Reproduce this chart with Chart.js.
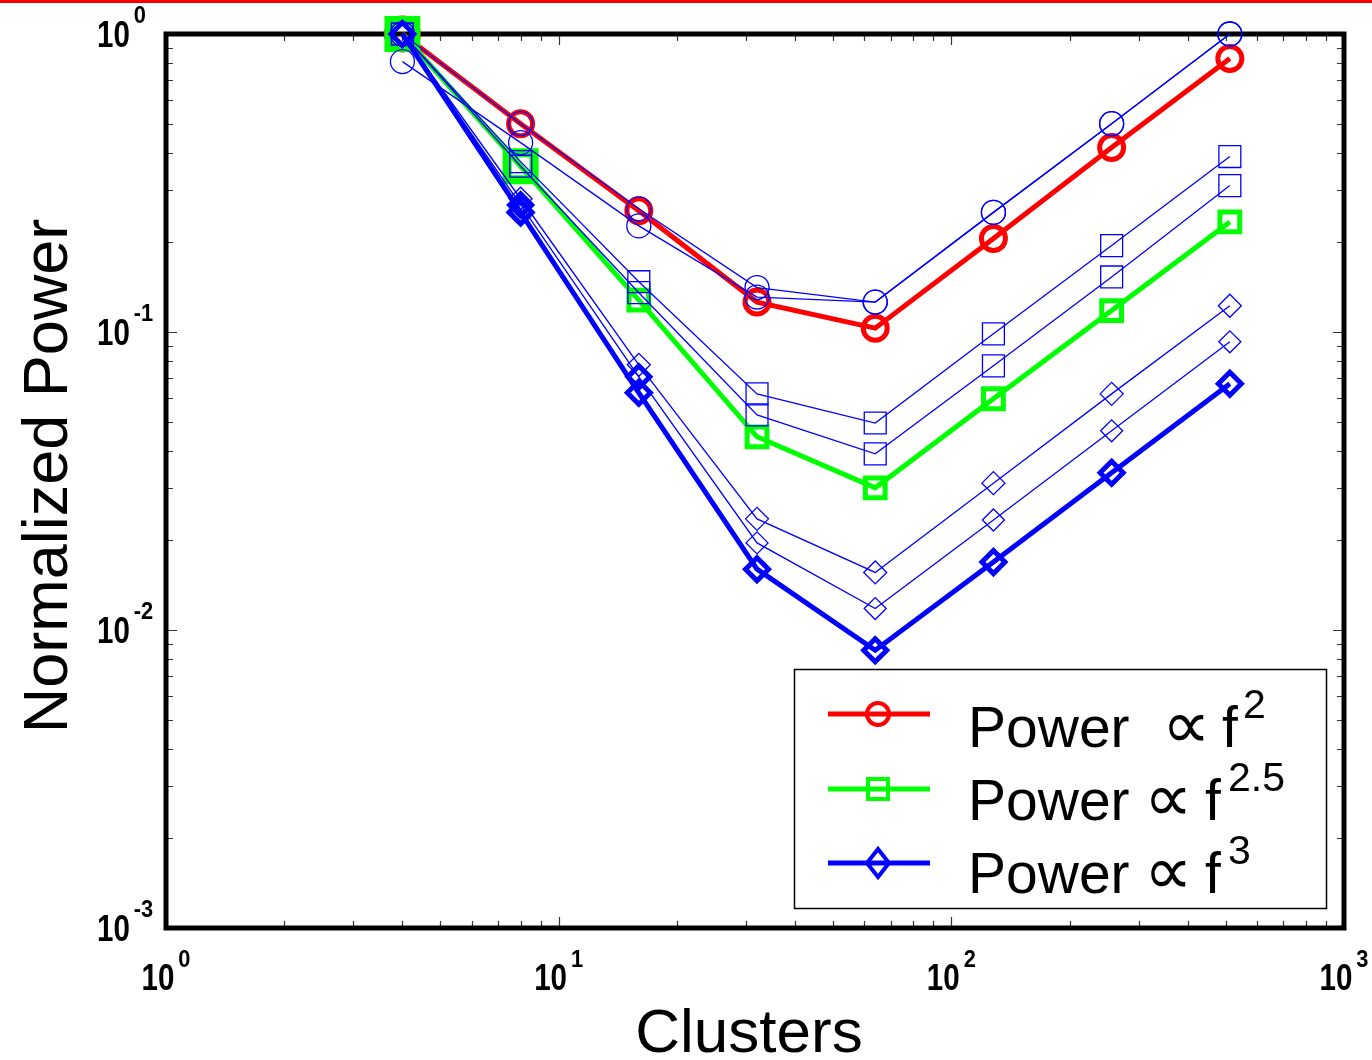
<!DOCTYPE html>
<html>
<head>
<meta charset="utf-8">
<script src="https://cdn.jsdelivr.net/npm/chart.js@4.4.1/dist/chart.umd.min.js"></script>
<style>
html,body{margin:0;padding:0;background:#fff;overflow:hidden}
#wrap{position:relative;width:1372px;height:1060px}
</style>
</head>
<body>
<div id="wrap"><canvas id="c" width="1372" height="1060"></canvas></div>
<script>
// ---- data ----
const clusters = [4, 8, 16, 32, 64, 128, 256, 512];

const powerF2   = [1.0, 0.50, 0.255, 0.126, 0.103, 0.206, 0.416, 0.828];
const powerF25  = [1.0, 0.36, 0.128, 0.0445, 0.030, 0.0597, 0.118, 0.234];
const powerF3   = [1.0, 0.252, 0.0625, 0.016, 0.00855, 0.0169, 0.0337, 0.067];

const circA = [1.0, 0.50, 0.259, 0.141, 0.126, 0.252, 0.50, 1.0];
const circB = [0.808, 0.432, 0.227, 0.131, 0.126, 0.252, 0.50, 1.0];
const sqA   = [1.0, 0.373, 0.1475, 0.062, 0.0495, 0.0986, 0.195, 0.388];
const sqB   = [1.0, 0.36, 0.1355, 0.0527, 0.039, 0.077, 0.153, 0.310];
const diaA  = [1.0, 0.28, 0.0776, 0.0236, 0.0156, 0.0311, 0.062, 0.1225];
const diaB  = [1.0, 0.267, 0.0707, 0.0196, 0.0118, 0.0234, 0.0466, 0.0927];

const xTickExps = [0, 1, 2, 3];
const yTickExps = [0, -1, -2, -3];
const xTitle = 'Clusters';
const yTitle = 'Normalized Power';
const legendBase = ['Power', 'Power', 'Power'];
const legendExps = ['2', '2.5', '3'];

// ---- helpers ----
const pts = vals => clusters.map((c, i) => ({x: c, y: vals[i]}));
const NONE = 'rgba(0,0,0,0)';
const BLUE = '#0000ff', RED = '#ff0000', GREEN = '#00ff00';
const thin = (vals, style, radius) => ({
  data: pts(vals), borderColor: BLUE, borderWidth: 1.3,
  pointStyle: style, pointRadius: radius, pointBorderWidth: 1.3,
  pointBorderColor: BLUE, pointBackgroundColor: NONE,
  fill: false, tension: 0, clip: false
});
const thick = (vals, color, style, radius) => ({
  data: pts(vals), borderColor: color, borderWidth: 5,
  pointStyle: style, pointRadius: radius, pointBorderWidth: 5,
  pointBorderColor: color, pointBackgroundColor: NONE,
  fill: false, tension: 0, clip: false
});

const dsDiaB = thin(diaB, 'rectRot', 11);
dsDiaB.pointBorderWidth = c => (c.dataIndex === 1 || c.dataIndex === 2) ? 5 : 1.3;

const dsGreen = thick(powerF25, GREEN, 'rect', 14);
dsGreen.pointRadius = c => c.dataIndex <= 1 ? 19 : 14;
dsGreen.pointBorderWidth = c => c.dataIndex <= 1 ? 9 : 5;

const dsRed = thick(powerF2, RED, 'circle', 12);
dsRed.pointRadius = c => c.dataIndex === 0 ? 16 : 12;

const datasets = [
  thin(circA, 'circle', 12),
  thin(circB, 'circle', 12),
  thin(sqA, 'rect', 15.5),
  thin(sqB, 'rect', 15.5),
  thin(diaA, 'rectRot', 11.5),
  dsDiaB,
  thick(powerF3, BLUE, 'rectRot', 11.5),
  dsGreen,
  dsRed
];

const FONT = '"Liberation Sans", Arial, Helvetica, sans-serif';

function narrowText(ctx, text, x, y, font, sx) {
  ctx.save();
  ctx.font = font;
  ctx.translate(x, y);
  ctx.scale(sx, 1);
  ctx.fillText(text, 0, 0);
  ctx.restore();
}
function narrowWidth(ctx, text, font, sx) {
  ctx.save(); ctx.font = font;
  const w = ctx.measureText(text).width * sx;
  ctx.restore();
  return w;
}

const deco = {
  id: 'deco',
  beforeDraw(chart) {
    const ctx = chart.ctx;
    ctx.save();
    ctx.fillStyle = '#fff';
    ctx.fillRect(0, 0, chart.width, chart.height);
    ctx.fillStyle = RED;
    ctx.fillRect(0, 0, chart.width, 3);
    ctx.restore();
  },
  beforeDatasetsDraw(chart) {
    const ctx = chart.ctx;
    const a = chart.chartArea;
    const xs = chart.scales.x, ys = chart.scales.y;
    ctx.save();
    // ticks
    ctx.strokeStyle = '#333';
    ctx.lineWidth = 1.2;
    const MAJ = 11, MIN = 7;
    for (let d = 0; d < 3; d++) {
      for (let m = 1; m <= 9; m++) {
        const v = m * Math.pow(10, d);
        if (v <= 1) continue;
        const px = Math.round(xs.getPixelForValue(v)) + 0.5;
        const len = m === 1 ? MAJ : MIN;
        ctx.beginPath();
        ctx.moveTo(px, a.bottom); ctx.lineTo(px, a.bottom - len);
        ctx.moveTo(px, a.top); ctx.lineTo(px, a.top + len);
        ctx.stroke();
      }
    }
    for (let d = -3; d < 0; d++) {
      for (let m = 1; m <= 9; m++) {
        const v = m * Math.pow(10, d);
        if (v <= 0.001) continue;
        const py = Math.round(ys.getPixelForValue(v)) + 0.5;
        const len = m === 1 ? MAJ : MIN;
        ctx.beginPath();
        ctx.moveTo(a.left, py); ctx.lineTo(a.left + len, py);
        ctx.moveTo(a.right, py); ctx.lineTo(a.right - len, py);
        ctx.stroke();
      }
    }
    // frame
    ctx.strokeStyle = '#000';
    ctx.lineWidth = 5;
    ctx.lineJoin = 'miter';
    ctx.strokeRect(a.left, a.top, a.right - a.left, a.bottom - a.top);

    // tick labels
    ctx.fillStyle = '#000';
    ctx.textBaseline = 'alphabetic';
    ctx.textAlign = 'left';
    const big = 'bold 36px ' + FONT, small = 'bold 23px ' + FONT;
    const SX = 0.82, SXS = 0.95;
    xTickExps.forEach(e => {
      const px = xs.getPixelForValue(Math.pow(10, e));
      const w1 = narrowWidth(ctx, '10', big, SX);
      const w2 = narrowWidth(ctx, String(e), small, SXS);
      const gap = 4;
      const x0 = px - (w1 + gap + w2) / 2;
      narrowText(ctx, '10', x0, a.bottom + 62, big, SX);
      narrowText(ctx, String(e), x0 + w1 + gap, a.bottom + 39, small, SXS);
    });
    yTickExps.forEach(e => {
      const py = ys.getPixelForValue(Math.pow(10, e));
      const w1 = narrowWidth(ctx, '10', big, SX);
      narrowText(ctx, '10', 97, py + 12.5, big, SX);
      narrowText(ctx, String(e), 97 + w1 + 4, py - 11, small, SXS);
    });

    // axis titles
    ctx.font = '62px ' + FONT;
    ctx.textAlign = 'center';
    ctx.fillText(xTitle, 749, 1052);
    ctx.save();
    ctx.translate(67, 476);
    ctx.rotate(-Math.PI / 2);
    ctx.font = '63px ' + FONT;
    ctx.fillText(yTitle, 0, 0);
    ctx.restore();
    ctx.restore();
  },
  afterDraw(chart) {
    const ctx = chart.ctx;
    ctx.save();
    const bx = 794, by = 669, bw = 532, bh = 239;
    ctx.fillStyle = '#fff';
    ctx.fillRect(bx, by, bw, bh);
    ctx.strokeStyle = '#000';
    ctx.lineWidth = 1.5;
    ctx.strokeRect(bx + 0.5, by + 0.5, bw, bh);

    const rows = [714, 789, 863];
    const baselines = [747, 820, 893];
    const symX = [1162, 1144, 1144];
    const fX = [1222, 1205, 1205];
    const supX = [1243, 1228, 1228];
    const styles = [[RED, 'circle'], [GREEN, 'rect'], [BLUE, 'rectRot']];
    styles.forEach(([col, st], i) => {
      const y = rows[i];
      ctx.strokeStyle = col;
      ctx.lineWidth = 5;
      ctx.beginPath(); ctx.moveTo(828, y); ctx.lineTo(930, y); ctx.stroke();
      ctx.lineWidth = 4;
      ctx.beginPath();
      const cx = 878;
      if (st === 'circle') ctx.arc(cx, y, 11, 0, Math.PI * 2);
      else if (st === 'rect') ctx.rect(cx - 10, y - 10, 20, 20);
      else { ctx.moveTo(cx - 11, y); ctx.lineTo(cx, y - 14); ctx.lineTo(cx + 11, y); ctx.lineTo(cx, y + 14); ctx.closePath(); }
      ctx.stroke();

      ctx.fillStyle = '#000';
      ctx.textAlign = 'left';
      ctx.textBaseline = 'alphabetic';
      ctx.font = '57px ' + FONT;
      ctx.fillText(legendBase[i], 968, baselines[i]);
      ctx.font = '68px "DejaVu Sans", ' + FONT;
      ctx.fillText('\u221D', symX[i], baselines[i] + 1);
      ctx.font = '57px ' + FONT;
      ctx.fillText('f', fX[i], baselines[i]);
      ctx.font = '41px ' + FONT;
      ctx.fillText(legendExps[i], supX[i], baselines[i] - 29);
    });
    ctx.restore();
  }
};

new Chart(document.getElementById('c'), {
  type: 'line',
  data: { datasets },
  options: {
    responsive: false,
    animation: false,
    events: [],
    layout: { padding: { left: 166, right: 26, top: 34, bottom: 132 } },
    plugins: { legend: { display: false }, tooltip: { enabled: false } },
    scales: {
      x: { type: 'logarithmic', min: 1, max: 1000, display: false },
      y: { type: 'logarithmic', min: 0.001, max: 1, display: false }
    }
  },
  plugins: [deco]
});
</script>
</body>
</html>
